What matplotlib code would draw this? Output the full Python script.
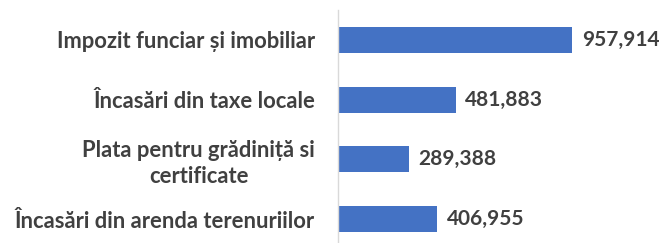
import matplotlib
matplotlib.use("Agg")
import matplotlib.pyplot as plt

categories = ["Impozit funciar și imobiliar",
              "Încasări din taxe locale",
              "Plata pentru grădiniță si\ncertificate",
              "Încasări din arenda terenuriilor"]
values = [957914, 481883, 289388, 406955]

W, H = 662, 243
fig = plt.figure(figsize=(W / 100, H / 100), dpi=100)
ax = fig.add_axes([338 / W, 0, 1 - 338 / W, (H - 10) / H])

ypos = list(range(len(categories)))
ax.barh(ypos, values, height=0.44, color="#4472C4")
ax.set_xlim(0, 957914 * (W - 338) / 234)
ax.set_ylim(3 + 24 / 59.7, -30 / 59.7)

for s in ["top", "right", "bottom"]:
    ax.spines[s].set_visible(False)
ax.spines["left"].set_color("#D9D9D9")
ax.spines["left"].set_linewidth(1.0)
ax.set_xticks([])
ax.set_yticks(ypos)
ax.set_yticklabels(categories, fontfamily="Lato", fontweight="bold",
                   fontsize=15.8, color="#404040", multialignment="center",
                   linespacing=1.3)
ax.tick_params(axis="y", length=0, pad=16.5)

for y, v in zip(ypos, values):
    ax.annotate(f"{v:,}", (v, y), xytext=(7, 0), textcoords="offset points",
                ha="left", va="center", fontfamily="Lato", fontweight="bold",
                fontsize=15, color="#404040")

fig.savefig("out.png", dpi=100)
